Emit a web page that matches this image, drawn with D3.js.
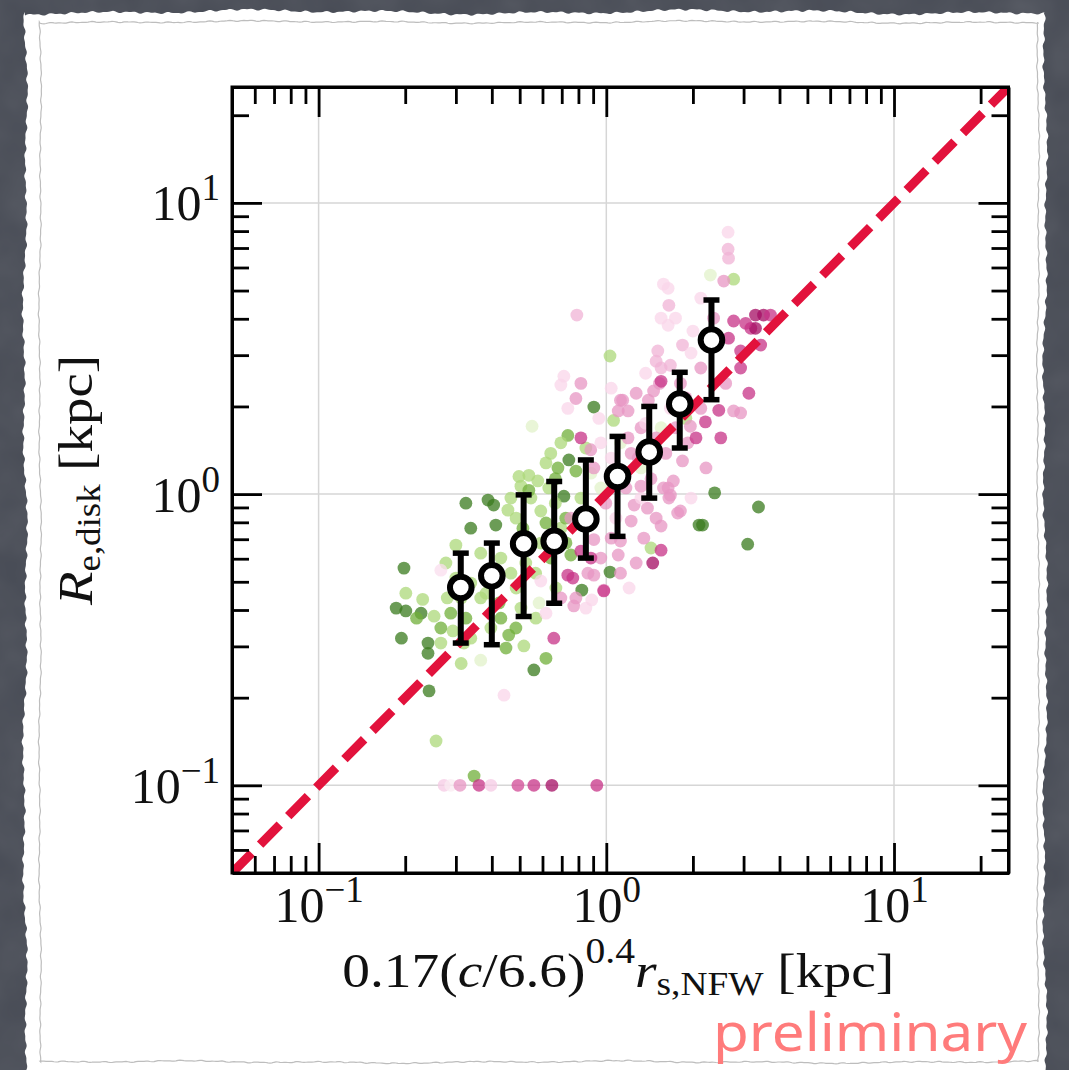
<!DOCTYPE html>
<html>
<head>
<meta charset="utf-8">
<script src="https://cdn.jsdelivr.net/npm/d3@7"></script>
<style>
  html, body { margin: 0; padding: 0; background: #474b55; }
  svg { display: block; }
</style>
</head>
<body>
<svg width="1069" height="1070"></svg>
<script>
const svgWidth = 1069;
const svgHeight = 1070;

// binned medians with 16-84 percentile bars
const binX = [0.312, 0.40, 0.516, 0.659, 0.849, 1.094, 1.41, 1.80, 2.32];
const binMedian = [0.478, 0.524, 0.675, 0.689, 0.821, 1.15, 1.394, 2.04, 3.38];
const binLow = [0.308, 0.304, 0.380, 0.422, 0.603, 0.716, 0.969, 1.44, 2.11];
const binHigh = [0.627, 0.679, 0.994, 1.105, 1.31, 1.578, 2.0, 2.62, 4.64];

// individual galaxies (x, y, colour value 0 = magenta .. 1 = green)
const scatterX = [
  0.325, 0.388, 0.406, 0.338, 0.413, 0.198, 0.186, 0.201, 0.227, 0.194,
  0.240, 0.240, 0.242, 0.560, 0.617, 0.905, 0.741, 2.38, 3.38, 2.10,
  2.16, 3.10, 1.03, 0.822, 0.448, 0.458, 0.712, 0.735, 0.201, 0.230,
  0.252, 0.293, 0.338, 0.366, 0.517, 0.584, 0.256, 0.347, 0.300, 0.277,
  0.552, 0.641, 0.538, 0.578, 0.505, 0.466, 0.592, 0.784, 1.06, 1.43,
  1.03, 2.30, 2.77, 0.753, 0.486, 0.525, 0.430, 0.397, 0.486, 0.568,
  0.617, 0.665, 0.547, 0.366, 0.325, 0.280, 0.300, 0.366, 0.313, 0.430,
  0.505, 0.266, 0.219, 0.665, 0.617, 0.695, 0.724, 0.883, 0.803, 0.957,
  0.849, 0.695, 1.32, 1.12,
  0.497, 0.538, 0.631, 0.455, 0.513, 0.592, 0.641, 0.466, 0.525, 0.382,
  0.424, 0.338, 0.313, 0.288, 0.266, 0.320, 0.397, 0.485, 0.569, 0.668,
  0.723, 0.816, 0.884, 0.679, 1.32, 1.55, 1.89,
  0.695, 0.816, 0.735, 0.816, 1.12, 1.19, 1.53, 2.46, 2.77, 2.21,
  1.96, 1.84, 1.64, 1.67, 1.81, 1.25, 1.39, 1.22, 1.12, 1.35,
  1.55, 1.45, 0.980, 0.905, 0.765, 0.771, 0.657, 0.441, 0.592, 0.816,
  0.905, 1.06, 1.29, 0.753, 0.905, 0.957, 1.10, 1.77, 1.71, 1.58,
  1.65, 1.92, 0.735, 0.863, 0.89, 0.980,
  2.65, 2.65, 2.66, 2.56, 1.58, 1.64, 1.65, 1.55, 1.64, 2.36,
  2.77, 3.30, 3.52, 3.72, 3.18, 3.44, 2.93, 2.66, 1.84, 2.00,
  1.51, 1.49, 1.55, 1.67, 1.55, 1.46, 1.40, 1.14, 1.10, 0.790,
  0.712,
  0.996, 1.08, 1.17, 1.32, 1.49, 1.43, 1.61, 1.74, 2.05, 2.13,
  1.89, 1.67, 1.32, 1.22, 1.04, 1.12, 1.27, 1.04, 0.884, 1.20,
  1.55, 1.97, 2.22, 2.50, 2.93, 3.13, 2.60, 2.13, 1.97, 1.81,
  1.37, 1.27, 1.04, 0.784, 0.942, 1.74, 2.13, 2.93, 3.30, 3.05,
  0.273, 0.288, 0.310, 0.361, 0.397, 0.493, 0.560, 0.647, 0.927,
  0.266, 0.784, 0.849, 0.695, 0.617, 0.883, 0.957, 1.19, 1.37, 1.49,
  1.32
];
const scatterY = [
  0.931, 0.954, 0.917, 0.764, 0.783, 0.557, 0.406, 0.397, 0.390, 0.320,
  0.308, 0.284, 0.211, 0.249, 0.273, 1.99, 1.31, 1.01, 0.903, 0.783,
  0.783, 0.673, 0.540, 0.468, 0.296, 0.328, 0.984, 1.59, 0.457, 0.435,
  0.381, 0.339, 0.320, 0.269, 0.301, 0.423, 0.142, 0.1076, 0.668, 0.580,
  1.71, 1.38, 1.16, 1.11, 1.065, 0.969, 0.875, 1.20, 1.79, 0.653,
  2.98, 5.65, 5.47, 0.618, 0.827, 0.706, 0.603, 0.515, 0.476, 0.535,
  0.796, 0.931, 0.969, 0.440, 0.375, 0.440, 0.515, 0.627, 0.262, 0.375,
  0.406, 0.347, 0.375, 1.13, 1.28, 0.764, 0.680, 0.861, 0.827, 1.05,
  1.44, 1.50, 1.23, 1.50,
  1.15, 1.03, 1.05, 0.881, 0.764, 0.679, 0.603, 0.535, 0.580, 0.457,
  0.423, 0.495, 0.440, 0.390, 0.308, 0.308, 0.347, 0.347, 0.375, 0.476,
  0.827, 0.969, 1.18, 1.23, 1.38, 1.69, 1.82,
  2.37, 2.40, 1.97, 1.56, 2.10, 1.93, 2.40, 1.94, 1.93, 1.77,
  1.71, 1.30, 1.05, 0.992, 0.875, 0.917, 0.895, 0.808, 0.690, 0.706,
  0.642, 0.580, 0.468, 0.527, 0.515, 0.413, 0.320, 0.204, 0.503, 0.637,
  1.23, 1.13, 1.33, 0.827, 0.698, 0.603, 0.618, 0.861, 1.11, 1.05,
  0.969, 1.50, 0.527, 0.535, 0.433, 0.465,
  7.93, 6.93, 6.46, 5.39, 5.26, 5.09, 4.45, 4.02, 3.80, 4.02,
  3.93, 4.12, 4.12, 4.12, 3.71, 3.25, 3.10, 3.43, 3.25, 3.63,
  3.10, 2.86, 2.71, 2.77, 2.44, 2.26, 2.10, 2.10, 1.93, 4.12,
  2.54,
  0.931, 0.827, 1.05, 0.969, 0.827, 1.13, 1.38, 1.69, 1.56, 1.97,
  2.14, 1.97, 1.69, 1.38, 1.33, 0.535, 0.580, 0.706, 0.603, 0.476,
  0.777, 0.969, 1.23, 1.56, 1.90, 2.22, 2.40, 2.71, 3.05, 2.40,
  2.60, 2.22, 2.31, 2.13, 1.82, 4.02, 4.71, 2.71, 3.71, 3.86,
  0.1, 0.1, 0.1, 0.1, 0.1, 0.1, 0.1, 0.1, 0.1,
  0.548, 0.44, 0.406, 0.440, 0.390, 1.42, 1.50, 1.56, 1.75, 1.56,
  1.065
];
const scatterC = [
  0.95, 0.95, 0.95, 0.95, 0.95, 0.95, 0.95, 0.95, 0.95, 0.95,
  0.95, 0.95, 0.95, 0.95, 0.83, 0.95, 0.95, 0.95, 0.95, 0.95,
  0.95, 0.95, 0.95, 0.95, 0.83, 0.83, 0.95, 0.83, 0.72, 0.72,
  0.72, 0.72, 0.72, 0.60, 0.72, 0.60, 0.72, 0.83, 0.72, 0.72,
  0.60, 0.72, 0.72, 0.72, 0.72, 0.72, 0.72, 0.83, 0.72, 0.72,
  0.72, 0.60, 0.72, 0.83, 0.72, 0.83, 0.72, 0.83, 0.72, 0.72,
  0.83, 0.72, 0.72, 0.72, 0.83, 0.72, 0.72, 0.72, 0.72, 0.83,
  0.72, 0.83, 0.83, 0.83, 0.72, 0.72, 0.83, 0.72, 0.60, 0.60,
  0.72, 0.72, 0.60, 0.60,
  0.72, 0.83, 0.72, 0.72, 0.83, 0.72, 0.83, 0.72, 0.72, 0.72,
  0.83, 0.72, 0.72, 0.83, 0.72, 0.72, 0.72, 0.83, 0.72, 0.72,
  0.83, 0.72, 0.60, 0.83, 0.60, 0.60, 0.72,
  0.38, 0.25, 0.38, 0.12, 0.25, 0.25, 0.25, 0.12, 0.25, 0.12,
  0.25, 0.25, 0.25, 0.25, 0.25, 0.25, 0.25, 0.25, 0.25, 0.25,
  0.12, 0.04, 0.25, 0.25, 0.12, 0.25, 0.12, 0.38, 0.38, 0.12,
  0.25, 0.25, 0.25, 0.25, 0.25, 0.25, 0.25, 0.25, 0.25, 0.25,
  0.25, 0.25, 0.12, 0.25, 0.38, 0.12,
  0.38, 0.30, 0.30, 0.25, 0.38, 0.38, 0.30, 0.38, 0.38, 0.25,
  0.12, 0.04, 0.04, 0.12, 0.12, 0.12, 0.12, 0.12, 0.30, 0.38,
  0.30, 0.30, 0.30, 0.30, 0.12, 0.25, 0.25, 0.25, 0.25, 0.30,
  0.38,
  0.25, 0.38, 0.25, 0.38, 0.25, 0.25, 0.25, 0.25, 0.12, 0.25,
  0.25, 0.38, 0.25, 0.25, 0.38, 0.25, 0.25, 0.25, 0.12, 0.38,
  0.25, 0.38, 0.25, 0.12, 0.25, 0.12, 0.25, 0.25, 0.38, 0.25,
  0.38, 0.25, 0.38, 0.25, 0.38, 0.38, 0.38, 0.12, 0.04, 0.12,
  0.35, 0.45, 0.25, 0.12, 0.35, 0.15, 0.12, 0.04, 0.12,
  0.40, 0.25, 0.38, 0.25, 0.38, 0.25, 0.38, 0.25, 0.38, 0.25,
  0.25
];

const majorTicks = [0.1, 1, 10];
const minorTicks = [0.06, 0.07, 0.08, 0.09, 0.2, 0.3, 0.4, 0.5, 0.6, 0.7, 0.8, 0.9,
  2, 3, 4, 5, 6, 7, 8, 9, 20];

const serif = "'Liberation Serif', 'DejaVu Serif', serif";

const svg = d3.select("svg");

// chalkboard + torn paper
const defs = svg.append("defs");
const noise = defs.append("filter").attr("id", "chalk");
noise.append("feTurbulence").attr("type", "fractalNoise")
  .attr("baseFrequency", 0.02).attr("numOctaves", 3).attr("seed", 4);
noise.append("feColorMatrix").attr("type", "saturate").attr("values", 0);

svg.append("rect").attr("width", svgWidth).attr("height", svgHeight).attr("fill", "#474b55");
svg.append("rect").attr("width", svgWidth).attr("height", svgHeight)
  .attr("filter", "url(#chalk)").style("opacity", 0.12);

function wobble(t, k) {
  return Math.sin(t / 3.1 + k) * 0.7 + Math.sin(t / 1.7 + 2 * k) * 0.5 +
    Math.sin(t / 23 + k) * 1.2 + Math.sin(t / 71 + 3 * k) * 1.5;
}
function tornRect(l, t, r, b, amp) {
  const pts = [];
  for (let xx = l; xx <= r; xx += 2) pts.push([xx, t + amp * wobble(xx, 0.3)]);
  for (let yy = t; yy <= b; yy += 2) pts.push([r + amp * wobble(yy, 1.7), yy]);
  for (let xx = r; xx >= l; xx -= 2) pts.push([xx, b + amp * wobble(xx, 2.9)]);
  for (let yy = b; yy >= t; yy -= 2) pts.push([l + amp * wobble(yy, 4.1), yy]);
  return d3.line()(pts) + "Z";
}
svg.append("path").attr("d", tornRect(25, 12, 1045, 1078, 1)).attr("fill", "#ffffff");
svg.append("path").attr("d", tornRect(40, 22, 1038, 1062, 0.5))
  .attr("fill", "none").attr("stroke", "#bdbdbd").attr("stroke-width", 1.2);

// scales
const x = d3.scaleLog().domain([0.05, 25]).range([232, 1008.5]);
const y = d3.scaleLog().domain([0.05, 25]).range([873, 87]);
const color = (v) => d3.interpolatePiYG(v);

defs.append("clipPath").attr("id", "plotClip")
  .append("rect")
  .attr("x", x.range()[0]).attr("y", y.range()[1])
  .attr("width", x.range()[1] - x.range()[0])
  .attr("height", y.range()[0] - y.range()[1]);

// grid
const grid = svg.append("g").attr("stroke", "#d6d6d6").attr("stroke-width", 1.5);
grid.selectAll(".gx").data(majorTicks).join("line")
  .attr("x1", (d) => x(d)).attr("x2", (d) => x(d))
  .attr("y1", y.range()[0]).attr("y2", y.range()[1]);
grid.selectAll(".gy").data(majorTicks).join("line")
  .attr("y1", (d) => y(d)).attr("y2", (d) => y(d))
  .attr("x1", x.range()[0]).attr("x2", x.range()[1]);

const plot = svg.append("g").attr("clip-path", "url(#plotClip)");

// scatter
plot.append("g").selectAll("circle")
  .data(scatterX.map((d, i) => ({ x: d, y: scatterY[i], c: scatterC[i] })))
  .join("circle")
  .attr("cx", (d) => x(d.x))
  .attr("cy", (d) => y(d.y))
  .attr("r", 6.4)
  .attr("fill", (d) => color(d.c))
  .style("opacity", 0.75);

// one-to-one line
plot.append("path")
  .datum(x.domain())
  .attr("d", d3.line().x((d) => x(d)).y((d) => y(d)))
  .attr("fill", "none")
  .attr("stroke", "#e2123c")
  .attr("stroke-width", 9)
  .attr("stroke-dasharray", "28,12");

// binned medians
const bins = binX.map((d, i) => ({ x: d, m: binMedian[i], lo: binLow[i], hi: binHigh[i] }));
const bars = svg.append("g").attr("stroke", "#000");
bars.selectAll(".bar").data(bins).join("line")
  .attr("x1", (d) => x(d.x)).attr("x2", (d) => x(d.x))
  .attr("y1", (d) => y(d.lo)).attr("y2", (d) => y(d.hi))
  .attr("stroke-width", 6);
bars.selectAll(".capLo").data(bins).join("line")
  .attr("x1", (d) => x(d.x) - 8).attr("x2", (d) => x(d.x) + 8)
  .attr("y1", (d) => y(d.lo)).attr("y2", (d) => y(d.lo))
  .attr("stroke-width", 5.5);
bars.selectAll(".capHi").data(bins).join("line")
  .attr("x1", (d) => x(d.x) - 8).attr("x2", (d) => x(d.x) + 8)
  .attr("y1", (d) => y(d.hi)).attr("y2", (d) => y(d.hi))
  .attr("stroke-width", 5.5);
bars.selectAll("circle").data(bins).join("circle")
  .attr("cx", (d) => x(d.x)).attr("cy", (d) => y(d.m))
  .attr("r", 10.8)
  .attr("fill", "#fff")
  .attr("stroke-width", 6);

// axes, ticks pointing inwards on all four sides
const x0 = x.range()[0], x1 = x.range()[1];
const y0 = y.range()[0], y1 = y.range()[1];

function styleAxis(g) {
  g.selectAll("line").attr("stroke", "#000").attr("stroke-width", 2.8);
  g.select(".domain").attr("stroke", "#000").attr("stroke-width", 3);
}
function supLabel(textSel) {
  textSel.each(function (d) {
    const e = Math.round(Math.log10(d));
    const t = d3.select(this).text(null);
    t.append("tspan").text("10");
    t.append("tspan").attr("dy", -20).attr("font-size", 37)
      .text(e < 0 ? "\u2212" + (-e) : String(e));
  });
}

const axes = [
  { gen: d3.axisBottom(x), tr: `translate(0,${y0})`, labels: true },
  { gen: d3.axisTop(x), tr: `translate(0,${y1})`, labels: false },
  { gen: d3.axisLeft(y), tr: `translate(${x0},0)`, labels: true },
  { gen: d3.axisRight(y), tr: `translate(${x1},0)`, labels: false },
];
axes.forEach((a, i) => {
  const minor = svg.append("g").attr("transform", a.tr)
    .call(a.gen.tickValues(minorTicks).tickSize(-17).tickSizeOuter(0).tickFormat(""));
  minor.select(".domain").remove();
  styleAxis(minor);
  const major = svg.append("g").attr("transform", a.tr)
    .call(a.gen.tickValues(majorTicks).tickSize(-30).tickSizeOuter(0).tickFormat(() => ""));
  styleAxis(major);
  const txt = major.selectAll(".tick text");
  if (!a.labels) { txt.remove(); return; }
  txt.attr("fill", "#111").attr("font-family", serif).attr("font-size", 50).attr("dy", null);
  if (i === 0) txt.attr("y", 49).attr("text-anchor", "middle");
  else txt.attr("x", -12).attr("y", 17).attr("text-anchor", "end");
  supLabel(txt);
});
svg.append("rect").attr("x", x0).attr("y", y1).attr("width", x1 - x0).attr("height", y0 - y1)
  .attr("fill", "none").attr("stroke", "#000").attr("stroke-width", 3);

// axis titles
const xt = svg.append("text")
  .attr("x", (x0 + x1) / 2 - 2).attr("y", 987)
  .attr("text-anchor", "middle")
  .attr("font-family", serif).attr("font-size", 49).attr("fill", "#111")
  .attr("textLength", 552).attr("lengthAdjust", "spacingAndGlyphs");
xt.append("tspan").text("0.17(");
xt.append("tspan").attr("font-style", "italic").text("c");
xt.append("tspan").text("/6.6)");
xt.append("tspan").attr("font-size", 35).attr("dy", -24).text("0.4");
xt.append("tspan").attr("font-style", "italic").attr("dy", 24).text("r");
xt.append("tspan").attr("font-size", 33).attr("dy", 8).text("s,NFW");
xt.append("tspan").attr("dy", -8).text("\u00a0[kpc]");

const yt = svg.append("text")
  .attr("transform", `translate(92,${(y0 + y1) / 2}) rotate(-90)`)
  .attr("text-anchor", "middle")
  .attr("font-family", serif).attr("font-size", 49).attr("fill", "#111")
  .attr("textLength", 250).attr("lengthAdjust", "spacingAndGlyphs");
yt.append("tspan").attr("font-style", "italic").text("R");
yt.append("tspan").attr("font-size", 33).attr("dy", 8).text("e,disk");
yt.append("tspan").attr("dy", -8).text("\u00a0[kpc]");

svg.append("text")
  .attr("x", 713).attr("y", 1051)
  .attr("font-family", "'Comic Sans MS', 'Noto Sans', sans-serif")
  .attr("font-size", 52)
  .attr("fill", "#ff7b7b")
  .attr("textLength", 314)
  .attr("lengthAdjust", "spacingAndGlyphs")
  .text("preliminary");
</script>
</body>
</html>
